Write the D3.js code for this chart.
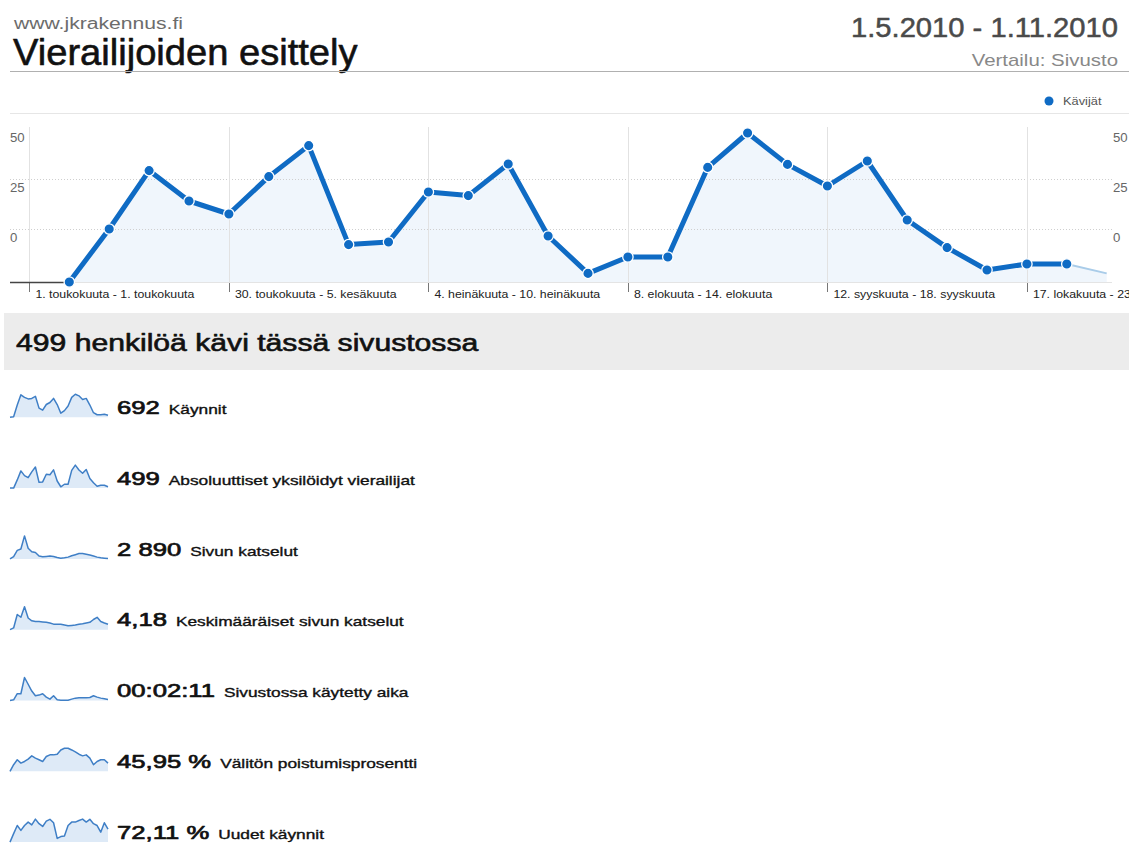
<!DOCTYPE html>
<html>
<head>
<meta charset="utf-8">
<script src="https://cdn.jsdelivr.net/npm/d3@7"></script>
<style>
  html, body { margin: 0; padding: 0; background: #fff; }
  svg { display: block; font-family: "Liberation Sans", Arial, Helvetica, sans-serif; }
</style>
</head>
<body>
<svg id="page" width="1129" height="843"></svg>
<script>
// ---- data -------------------------------------------------------------
const siteName = "www.jkrakennus.fi";
const reportTitle = "Vierailijoiden esittely";
const dateRange = "1.5.2010 - 1.11.2010";
const comparison = "Vertailu: Sivusto";
const seriesName = "Kävijät";

// weekly visitors, weeks 0..27 (first and last weeks are partial)
const visitors = [-26.5, -26.5, 0, 29.2, 14, 7.5, 26.2, 41.7, -7.8, -6.5, 18.5, 16.7, 32.5, -3.5,
                  -22.2, -14, -14, 30.8, 48, 32.3, 21.5, 34, 4.5, -9.3, -20.5, -17.5, -17.5, -22.2];
const yTicks = [0, 25, 50];
const labelWeeks = [0, 5, 10, 15, 20, 25];
const weekLabels = ["1. toukokuuta - 1. toukokuuta", "30. toukokuuta - 5. kesäkuuta",
                    "4. heinäkuuta - 10. heinäkuuta", "8. elokuuta - 14. elokuuta",
                    "12. syyskuuta - 18. syyskuuta", "17. lokakuuta - 23. lokakuuta"];

const totalVisitors = 499;
const summaryText = totalVisitors + " henkilöä kävi tässä sivustossa";

const metricValues = ["692", "499", "2 890", "4,18", "00:02:11", "45,95 %", "72,11 %"];
const metricNames = ["Käynnit", "Absoluuttiset yksilöidyt vierailijat", "Sivun katselut",
                     "Keskimääräiset sivun katselut", "Sivustossa käytetty aika",
                     "Välitön poistumisprosentti", "Uudet käynnit"];

// weekly series behind the sparklines
const visits = [1, 2, 25, 45, 40, 37, 38, 42, 19, 15, 26, 30, 38, 26, 9, 14, 23, 40, 46, 43, 36, 38, 25, 10, 6, 6, 7, 5];
const pageviews = [0, 57, 206, 241, 559, 258, 172, 155, 69, 52, 60, 69, 60, 34, 17, 26, 43, 77, 103, 129, 129, 112, 95, 69, 43, 26, 17, 9];
const pagesPerVisit = [1.0, 1.95, 9.2, 7.7, 13.4, 7.3, 5.8, 5.4, 5.4, 5.2, 5.0, 4.6, 4.0, 3.9, 3.9, 3.5, 3.1, 3.3, 3.5, 3.9, 4.2, 4.6, 5.0, 6.5, 7.7, 5.4, 4.6, 3.9];
const timeOnSite = [0, 14, 140, 140, 476, 336, 196, 98, 112, 140, 70, 28, 98, 14, 5, 5, 7, 28, 49, 56, 56, 56, 63, 98, 70, 49, 35, 21];
const bounceRate = [0, 22, 38.5, 27.5, 33, 40.7, 51.7, 44, 38.5, 33, 49.5, 55, 55, 57.2, 71.5, 77, 77, 71.5, 64.9, 57.2, 51.7, 55, 44, 22, 33, 38.5, 38.5, 27.5];
const newVisits = [0, 37, 72, 51, 72, 87, 75, 100, 80, 68, 91, 99, 84, 16, 24, 27, 72, 87, 87, 94, 100, 87, 99, 80, 72, 43, 84, 56];

const sparkSeries = [visits, visitors, pageviews, pagesPerVisit, timeOnSite, bounceRate, newVisits];

// ---- helpers ----------------------------------------------------------
const svg = d3.select("#page");
const BLUE = "#0f6bc4";

// widen glyphs horizontally by factor k
function stretch(sel, k) {
  sel.each(function () {
    const w = this.getComputedTextLength();
    d3.select(this).attr("textLength", w * k).attr("lengthAdjust", "spacingAndGlyphs");
  });
  return sel;
}
// thicken glyph strokes slightly
function heavy(sel, w) {
  return sel.attr("stroke", sel.attr("fill")).attr("stroke-width", w)
    .attr("stroke-linejoin", "round");
}

// ---- page header ------------------------------------------------------
stretch(svg.append("text").attr("x", 14).attr("y", 29)
  .attr("font-size", 16).attr("fill", "#6c6c6c").text(siteName), 1.32);
heavy(stretch(svg.append("text").attr("x", 13).attr("y", 65)
  .attr("font-size", 37).attr("fill", "#111").text(reportTitle), 1.03), 0.6);
heavy(stretch(svg.append("text").attr("x", 1118).attr("y", 37).attr("text-anchor", "end")
  .attr("font-size", 27).attr("fill", "#4a4a4a").text(dateRange), 1.08), 0.5);
stretch(svg.append("text").attr("x", 1118).attr("y", 66).attr("text-anchor", "end")
  .attr("font-size", 17).attr("fill", "#888").text(comparison), 1.2);

svg.append("line").attr("x1", 10).attr("x2", 1129).attr("y1", 71.5).attr("y2", 71.5)
  .attr("stroke", "#b0b0b0").attr("stroke-width", 1);

// legend
svg.append("circle").attr("cx", 1049).attr("cy", 101).attr("r", 4.5).attr("fill", BLUE);
stretch(svg.append("text").attr("x", 1063).attr("y", 105)
  .attr("font-size", 10.5).attr("fill", "#555").text(seriesName), 1.22);

svg.append("line").attr("x1", 10).attr("x2", 1129).attr("y1", 113.5).attr("y2", 113.5)
  .attr("stroke", "#e6e6e6").attr("stroke-width", 1);

// ---- main chart -------------------------------------------------------
const x = d3.scaleLinear().domain([0, visitors.length - 1]).range([29.4, 1106.7]);
const y = d3.scaleLinear().domain([-26.5, 50]).range([282, 129]);
const baseY = y.range()[0];
const weeks = d3.range(visitors.length);

const chart = svg.append("g");

// area under the line
chart.append("path")
  .datum(weeks.slice(1))
  .attr("fill", "#f0f6fc")
  .attr("d", d3.area().x(i => x(i)).y0(baseY).y1(i => y(visitors[i])));

// dotted horizontal gridlines
chart.selectAll("line.grid").data(yTicks.filter(t => t < 50)).join("line")
  .attr("class", "grid")
  .attr("x1", 10).attr("x2", 1112)
  .attr("y1", d => Math.round(y(d)) + 0.5).attr("y2", d => Math.round(y(d)) + 0.5)
  .attr("stroke", "#cfcfcf").attr("stroke-dasharray", "1,2");

// vertical week separators and their ticks
chart.selectAll("line.vsep").data(labelWeeks).join("line")
  .attr("class", "vsep")
  .attr("x1", d => Math.round(x(d)) + 0.5).attr("x2", d => Math.round(x(d)) + 0.5)
  .attr("y1", y(50) - 2).attr("y2", baseY)
  .attr("stroke", "#e2e2e2");
chart.selectAll("line.vtick").data(labelWeeks).join("line")
  .attr("class", "vtick")
  .attr("x1", d => Math.round(x(d)) + 0.5).attr("x2", d => Math.round(x(d)) + 0.5)
  .attr("y1", baseY).attr("y2", baseY + 10)
  .attr("stroke", "#777");

// baseline
chart.append("line").attr("x1", 10).attr("x2", 1112).attr("y1", baseY + 0.5).attr("y2", baseY + 0.5)
  .attr("stroke", "#e4e4e4");
chart.append("line").attr("x1", 10).attr("x2", x(1)).attr("y1", baseY + 0.5).attr("y2", baseY + 0.5)
  .attr("stroke", "#444").attr("stroke-width", 1.5);

// week labels
chart.selectAll("text.wk").data(labelWeeks).join("text")
  .attr("class", "wk")
  .attr("x", d => x(d) + 6).attr("y", baseY + 16)
  .attr("font-size", 11).attr("fill", "#222")
  .text((d, i) => weekLabels[i])
  .call(s => stretch(s, 1.12));

// y axis labels, both sides
const yAxisL = d3.axisLeft(y).tickValues(yTicks).tickSize(0).tickPadding(0);
const gL = chart.append("g").attr("transform", "translate(10,0)").call(yAxisL);
const yAxisR = d3.axisRight(y).tickValues(yTicks).tickSize(0).tickPadding(0);
const gR = chart.append("g").attr("transform", "translate(1113,0)").call(yAxisR);
[gL, gR].forEach(g => {
  g.select(".domain").remove();
  g.selectAll("text")
    .attr("font-family", "Liberation Sans, Arial, sans-serif")
    .attr("font-size", 12).attr("fill", "#666")
    .attr("dy", "1.05em");
});
gL.selectAll("text").attr("text-anchor", "start");
gL.selectAll("text").call(s => stretch(s, 1.1));
gR.selectAll("text").call(s => stretch(s, 1.1));

// partial final week drawn faint
const lastTwo = weeks.slice(-2);
chart.append("path").datum(lastTwo)
  .attr("fill", "none").attr("stroke", "#a9cce9").attr("stroke-width", 2)
  .attr("d", d3.line().x(i => x(i)).y(i => y(visitors[i])));

// main line
const solidWeeks = weeks.slice(1, -1);
chart.append("path").datum(solidWeeks)
  .attr("fill", "none").attr("stroke", BLUE).attr("stroke-width", 5)
  .attr("stroke-linejoin", "round")
  .attr("d", d3.line().x(i => x(i)).y(i => y(visitors[i])));

chart.selectAll("circle.pt").data(solidWeeks).join("circle")
  .attr("class", "pt")
  .attr("cx", i => x(i)).attr("cy", i => y(visitors[i]))
  .attr("r", 5.2).attr("fill", BLUE).attr("stroke", "#fff").attr("stroke-width", 1.3);

// ---- summary bar ------------------------------------------------------
svg.append("rect").attr("x", 4).attr("y", 313).attr("width", 1125).attr("height", 57)
  .attr("fill", "#ececec");
heavy(stretch(svg.append("text").attr("x", 16).attr("y", 351)
  .attr("font-size", 23).attr("fill", "#111").text(summaryText), 1.31), 0.6);

// ---- metric rows with sparklines --------------------------------------
const rowStep = 70.8, firstBase = 414;
const sx = d3.scaleLinear().domain([0, 27]).range([10, 108]);

metricValues.forEach((val, r) => {
  const base = firstBase + r * rowStep;
  const data = sparkSeries[r];
  const bottom = base + 3.3, top = base - 19.7;
  const sy = d3.scaleLinear().domain(d3.extent(data)).range([bottom, top]);
  const g = svg.append("g");
  g.append("path").datum(data)
    .attr("fill", "#deeaf7")
    .attr("d", d3.area().x((d, i) => sx(i)).y0(bottom).y1(d => sy(d)));
  g.append("path").datum(data)
    .attr("fill", "none").attr("stroke", "#3f7fc6").attr("stroke-width", 1.5)
    .attr("stroke-linejoin", "round")
    .attr("d", d3.line().x((d, i) => sx(i)).y(d => sy(d)));

  const num = g.append("text").attr("x", 117).attr("y", base)
    .attr("font-size", 19).attr("fill", "#111").text(val);
  heavy(stretch(num, 1.35), 0.7);
  const nw = +num.attr("textLength");
  const lab = g.append("text").attr("x", 117 + nw + 9).attr("y", base)
    .attr("font-size", 13).attr("fill", "#111").text(metricNames[r]);
  heavy(stretch(lab, 1.33), 0.35);
});
</script>
</body>
</html>
